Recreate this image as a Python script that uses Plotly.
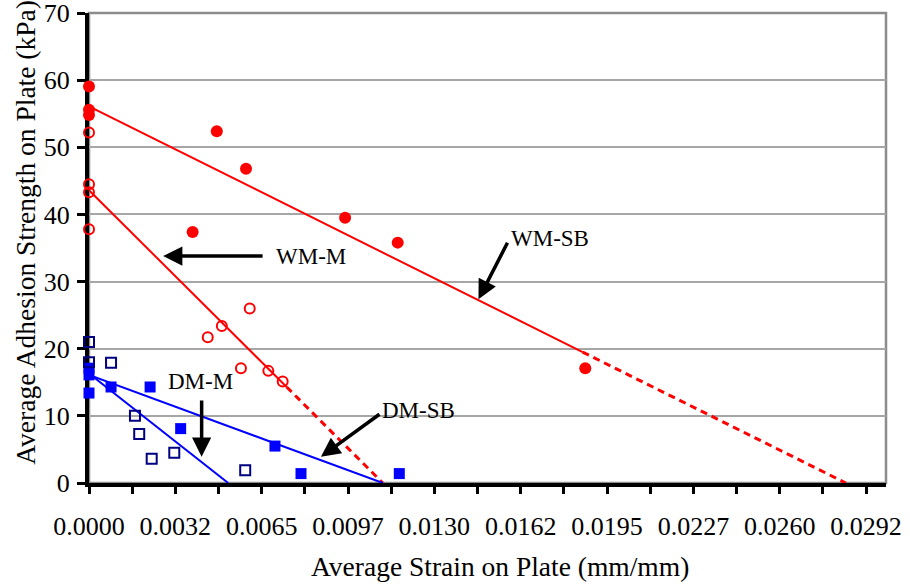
import plotly.graph_objects as go

# ---------------- data ----------------
wm_sb_x = [0.0, 0.0, 0.0, 0.00481, 0.00591, 0.00390, 0.00964, 0.01162, 0.01868]
wm_sb_y = [59.05, 55.6, 54.8, 52.4, 46.8, 37.4, 39.5, 35.8, 17.1]

wm_m_x = [0.0, 0.0, 0.0, 0.0, 0.00605, 0.00447, 0.00500, 0.00572, 0.00675, 0.00729]
wm_m_y = [52.2, 44.5, 43.3, 37.8, 26.0, 21.7, 23.4, 17.1, 16.7, 15.1]

dm_m_x = [0.0, 0.0, 0.00083, 0.00173, 0.00189, 0.00236, 0.00321, 0.00588]
dm_m_y = [21.0, 18.0, 17.9, 10.0, 7.3, 3.6, 4.5, 1.9]

dm_sb_x = [0.0, 0.0, 0.0, 0.00083, 0.00230, 0.00345, 0.00700, 0.00798, 0.01168]
dm_sb_y = [17.1, 16.1, 13.4, 14.3, 14.3, 8.1, 5.5, 1.4, 1.4]

# fitted trend lines (solid part, then dashed extrapolation)
wm_sb_fit_x = [0.0, 0.01858]
wm_sb_fit_y = [56.1, 19.5]
wm_sb_ext_x = [0.01858, 0.02849]
wm_sb_ext_y = [19.5, 0.0]

wm_m_fit_x = [0.0, 0.00744]
wm_m_fit_y = [43.6, 14.3]
wm_m_ext_x = [0.00744, 0.01106]
wm_m_ext_y = [14.3, 0.0]

dm_m_fit_x = [0.0, 0.00524]
dm_m_fit_y = [16.3, 0.0]

dm_sb_fit_x = [0.0, 0.01106]
dm_sb_fit_y = [16.1, 0.0]

x_tick_step = 0.001625
x_tick_labels = ["0.0000", "", "0.0032", "", "0.0065", "", "0.0097", "", "0.0130", "",
                 "0.0162", "", "0.0195", "", "0.0227", "", "0.0260", "", "0.0292"]
x_tick_vals = [i * x_tick_step for i in range(len(x_tick_labels))]

y_tick_vals = [0, 10, 20, 30, 40, 50, 60, 70]
y_tick_labels = ["0", "10", "20", "30", "40", "50", "60", "70"]

FONT = "Liberation Serif, Times New Roman, serif"
RED = "#FF0000"
BLUE = "#0000FF"
NAVY = "#000080"

fig = go.Figure()

# lines
fig.add_trace(go.Scatter(x=wm_sb_fit_x, y=wm_sb_fit_y, mode="lines",
                         line=dict(color=RED, width=2), cliponaxis=False))
fig.add_trace(go.Scatter(x=wm_sb_ext_x, y=wm_sb_ext_y, mode="lines",
                         line=dict(color=RED, width=3, dash="7px,5px"), cliponaxis=False))
fig.add_trace(go.Scatter(x=wm_m_fit_x, y=wm_m_fit_y, mode="lines",
                         line=dict(color=RED, width=2), cliponaxis=False))
fig.add_trace(go.Scatter(x=wm_m_ext_x, y=wm_m_ext_y, mode="lines",
                         line=dict(color=RED, width=3, dash="7px,5px"), cliponaxis=False))
fig.add_trace(go.Scatter(x=dm_m_fit_x, y=dm_m_fit_y, mode="lines",
                         line=dict(color=BLUE, width=2), cliponaxis=False))
fig.add_trace(go.Scatter(x=dm_sb_fit_x, y=dm_sb_fit_y, mode="lines",
                         line=dict(color=BLUE, width=2), cliponaxis=False))

# markers
fig.add_trace(go.Scatter(x=wm_sb_x, y=wm_sb_y, mode="markers", cliponaxis=False,
                         marker=dict(symbol="circle", size=12, color=RED)))
fig.add_trace(go.Scatter(x=wm_m_x, y=wm_m_y, mode="markers", cliponaxis=False,
                         marker=dict(symbol="circle-open", size=10, color=RED,
                                     line=dict(width=2, color=RED))))
fig.add_trace(go.Scatter(x=dm_sb_x, y=dm_sb_y, mode="markers", cliponaxis=False,
                         marker=dict(symbol="square", size=11, color=BLUE)))
fig.add_trace(go.Scatter(x=dm_m_x, y=dm_m_y, mode="markers", cliponaxis=False,
                         marker=dict(symbol="square-open", size=10, color=NAVY,
                                     line=dict(width=2, color=NAVY))))

# arrows (tail -> tip) and labels
arrows = [
    # (tip_x, tip_y, tail_x, tail_y)
    (0.00279, 33.8, 0.00659, 33.8),
    (0.01466, 27.35, 0.01578, 36.0),
    (0.00424, 3.9, 0.00424, 12.5),
    (0.00873, 3.9, 0.01099, 10.4),
]
for tx, ty, ax_, ay_ in arrows:
    fig.add_annotation(x=tx, y=ty, ax=ax_, ay=ay_, xref="x", yref="y", axref="x", ayref="y",
                       text="", showarrow=True, arrowhead=2, arrowsize=1.1,
                       arrowwidth=3.5, arrowcolor="black")

labels = [
    ("WM-M", 0.00834, 33.7),
    ("WM-SB", 0.01736, 36.4),
    ("DM-M", 0.00418, 15.1),
    ("DM-SB", 0.01242, 10.8),
]
for txt, lx, ly in labels:
    fig.add_annotation(x=lx, y=ly, xref="x", yref="y", text=txt, showarrow=False,
                       font=dict(family=FONT, size=23, color="black"),
                       xanchor="center", yanchor="middle")

# axis titles
fig.add_annotation(x=0.5157, y=-0.178, xref="paper", yref="paper",
                   text="Average Strain on Plate (mm/mm)", showarrow=False,
                   font=dict(family=FONT, size=27.5, color="black"),
                   xanchor="center", yanchor="middle")
fig.add_annotation(x=-0.08, y=0.533, xref="paper", yref="paper",
                   text="Average Adhesion Strength on Plate (kPa)", showarrow=False,
                   textangle=-90, font=dict(family=FONT, size=27.5, color="black"),
                   xanchor="center", yanchor="middle")

# plot frame (top / right in gray)
fig.add_shape(type="rect", xref="paper", yref="paper", x0=0, y0=0, x1=1, y1=1,
              line=dict(color="#8c8c8c", width=2.5), layer="below")

fig.update_layout(
    width=910, height=585,
    margin=dict(l=89, r=24, t=13, b=102, autoexpand=False),
    paper_bgcolor="white", plot_bgcolor="white",
    showlegend=False,
    font=dict(family=FONT, size=26, color="black"),
)
fig.update_xaxes(range=[0, 0.03], tickmode="array", tickvals=x_tick_vals, ticktext=x_tick_labels,
                 ticks="outside", ticklen=7, tickwidth=3, tickcolor="black",
                 showline=True, linecolor="black", linewidth=4, showgrid=False, zeroline=False,
                 tickfont=dict(family=FONT, size=26, color="black"), layer="below traces",
                 ticklabelstandoff=10, ticklabeloverflow="allow", automargin=False)
fig.update_yaxes(range=[0, 70], tickmode="array", tickvals=y_tick_vals, ticktext=y_tick_labels,
                 ticks="outside", ticklen=8, tickwidth=3, tickcolor="black",
                 showline=True, linecolor="black", linewidth=4,
                 showgrid=True, gridcolor="#a6a6a6", gridwidth=1.5, zeroline=False,
                 tickfont=dict(family=FONT, size=26, color="black"), layer="below traces",
                 ticklabelstandoff=2, ticklabeloverflow="allow", automargin=False)

fig.write_html("out.html")
